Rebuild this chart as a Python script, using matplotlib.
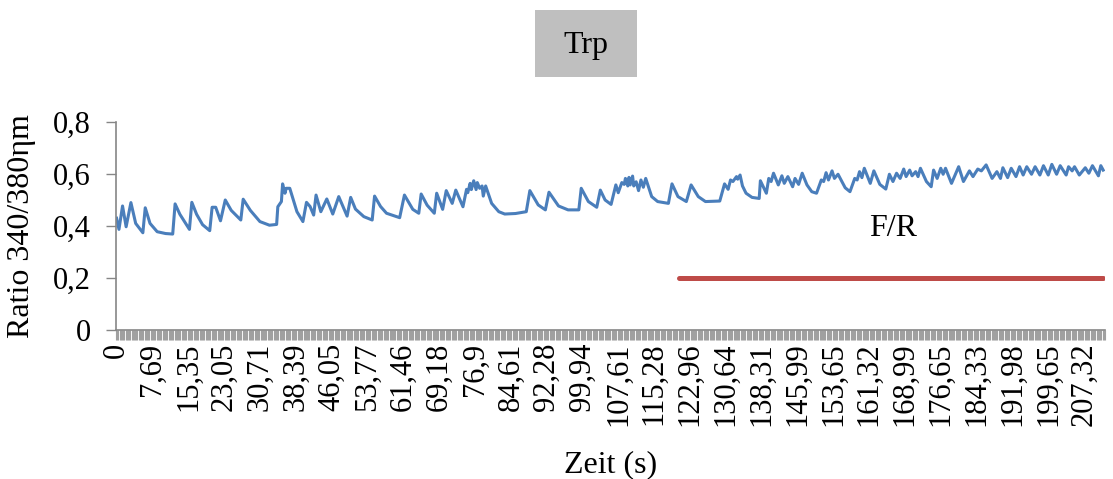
import matplotlib
matplotlib.use("Agg")
import matplotlib.pyplot as plt
from matplotlib.patches import Rectangle

plt.rcParams['font.family'] = ['Liberation Serif', 'DejaVu Serif']

# sample number (category index) and 340/380 ratio at the trace's turning points
sample_idx = [0, 2, 5, 8, 12, 16, 22, 24, 28, 34, 41, 47, 49, 53, 61, 63, 67, 72, 78, 80,
              83, 87, 91, 96, 104, 106, 112, 120, 128, 134, 135, 138, 139, 141, 142, 145, 151, 156, 159, 162,
              165, 167, 171, 176, 181, 186, 193, 196, 200, 207, 214, 216, 221, 226, 237, 241, 248, 253, 255, 260,
              266, 268, 273, 276, 281, 284, 290, 293, 294, 296, 297, 299, 301, 302, 304, 306, 307, 309, 314, 320,
              325, 334, 343, 346, 353, 359, 362, 370, 378, 387, 389, 395, 402, 405, 409, 414, 418, 420, 423, 425,
              426, 428, 429, 430, 432, 433, 435, 437, 439, 441, 443, 448, 453, 462, 465, 470, 477, 481, 487, 493,
              505, 509, 512, 514, 516, 519, 520, 522, 524, 527, 532, 538, 539, 544, 546, 548, 550, 554, 557, 559,
              562, 566, 568, 571, 574, 578, 582, 586, 590, 592, 594, 596, 599, 601, 604, 610, 614, 618, 620, 622,
              624, 626, 631, 634, 639, 644, 647, 650, 653, 656, 659, 661, 664, 666, 669, 671, 673, 678, 682, 684,
              687, 690, 692, 694, 699, 705, 709, 714, 717, 721, 724, 728, 733, 737, 740, 742, 746, 749, 753, 756,
              759, 762, 766, 769, 773, 776, 780, 783, 787, 790, 795, 797, 800, 802, 806, 811, 814, 817, 822, 824,
              826]
ratio = [0.430, 0.387, 0.477, 0.397, 0.490, 0.410, 0.374, 0.470, 0.410, 0.378, 0.371, 0.369, 0.485, 0.445, 0.387, 0.491, 0.445, 0.405, 0.382, 0.472,
         0.472, 0.420, 0.500, 0.460, 0.423, 0.503, 0.460, 0.417, 0.403, 0.406, 0.474, 0.494, 0.562, 0.526, 0.545, 0.545, 0.455, 0.417, 0.491, 0.475,
         0.442, 0.519, 0.455, 0.504, 0.446, 0.513, 0.438, 0.510, 0.465, 0.436, 0.423, 0.515, 0.475, 0.449, 0.432, 0.519, 0.464, 0.449, 0.523, 0.480,
         0.449, 0.526, 0.464, 0.536, 0.487, 0.538, 0.474, 0.541, 0.528, 0.564, 0.540, 0.574, 0.540, 0.567, 0.545, 0.554, 0.515, 0.554, 0.487, 0.455,
         0.446, 0.448, 0.455, 0.536, 0.481, 0.462, 0.530, 0.477, 0.462, 0.462, 0.545, 0.494, 0.472, 0.538, 0.500, 0.483, 0.558, 0.528, 0.567, 0.560,
         0.583, 0.554, 0.587, 0.558, 0.592, 0.554, 0.570, 0.536, 0.577, 0.549, 0.583, 0.513, 0.494, 0.487, 0.562, 0.513, 0.494, 0.558, 0.513, 0.494,
         0.496, 0.562, 0.541, 0.577, 0.571, 0.590, 0.580, 0.596, 0.554, 0.526, 0.510, 0.506, 0.574, 0.526, 0.583, 0.571, 0.603, 0.558, 0.593, 0.564,
         0.590, 0.551, 0.583, 0.560, 0.603, 0.558, 0.532, 0.526, 0.577, 0.571, 0.605, 0.577, 0.612, 0.583, 0.599, 0.547, 0.532, 0.583, 0.577, 0.609,
         0.586, 0.622, 0.564, 0.612, 0.560, 0.542, 0.599, 0.571, 0.603, 0.583, 0.619, 0.590, 0.615, 0.593, 0.609, 0.590, 0.622, 0.571, 0.551, 0.615,
         0.583, 0.622, 0.599, 0.622, 0.564, 0.628, 0.571, 0.612, 0.590, 0.619, 0.612, 0.635, 0.583, 0.609, 0.583, 0.624, 0.586, 0.622, 0.590, 0.628,
         0.596, 0.628, 0.599, 0.628, 0.596, 0.632, 0.596, 0.637, 0.599, 0.632, 0.596, 0.628, 0.612, 0.628, 0.596, 0.624, 0.603, 0.632, 0.593, 0.632,
         0.615]

n_samples = 828

# F/R application period
fr_start, fr_end = 471, 826
fr_level = 0.2

time_labels = ["0", "7,69", "15,35", "23,05", "30,71", "38,39", "46,05", "53,77", "61,46", "69,18",
               "76,9", "84,61", "92,28", "99,94", "107,61", "115,28", "122,96", "130,64", "138,31",
               "145,99", "153,65", "161,32", "168,99", "176,65", "184,33", "191,98", "199,65", "207,32"]
label_every = 30

y_ticks = [0, 0.2, 0.4, 0.6, 0.8]
y_labels = ["0", "0,2", "0,4", "0,6", "0,8"]

fig = plt.figure(figsize=(11.13, 4.79), dpi=100)
ax = fig.add_axes([0.1042, 0.3111, 0.8886, 0.4342])

ax.plot(sample_idx, ratio, color='#4A7EBB', lw=2.2, solid_joinstyle='round')
ax.plot([fr_start, fr_end], [fr_level, fr_level], color='#BE4B48', lw=3.6, solid_capstyle='round')
ax.text(650, 0.39, "F/R", fontsize=23, ha='center', va='center')

ax.set_xlim(-0.5, n_samples - 0.5)
ax.set_ylim(0, 0.8)

ax.set_xticks(range(0, label_every * len(time_labels), label_every))
ax.set_xticklabels(time_labels, rotation=90, fontsize=22)
ax.set_xticks([i - 0.5 for i in range(n_samples + 1)], minor=True)
ax.tick_params(axis='x', which='major', length=0, pad=9)
ax.tick_params(axis='x', which='minor', length=7, width=0.8, color='#A0A0A0')

ax.set_yticks(y_ticks)
ax.set_yticklabels(y_labels, fontsize=22)
ax.tick_params(axis='y', length=7, width=1, color='#868686', pad=11)

for side in ['top', 'right']:
    ax.spines[side].set_visible(False)
for side in ['left', 'bottom']:
    ax.spines[side].set_color('#868686')
    ax.spines[side].set_linewidth(1.2)

ax.set_ylabel("Ratio 340/380ηm", fontsize=23)
ax.yaxis.set_label_coords(-0.081, 0.5)
ax.set_xlabel("Zeit (s)", fontsize=23, va='center')
ax.xaxis.set_label_coords(0.50, -0.65)

# grey title box
fig.patches.append(Rectangle((535 / 1113, 1 - 77 / 479), 102 / 1113, 67 / 479,
                             transform=fig.transFigure, facecolor='#BFBFBF', edgecolor='none'))
fig.text(586 / 1113, 1 - 45 / 479, "Trp", fontsize=23, ha='center', va='center')

fig.savefig("out.png", dpi=100)
